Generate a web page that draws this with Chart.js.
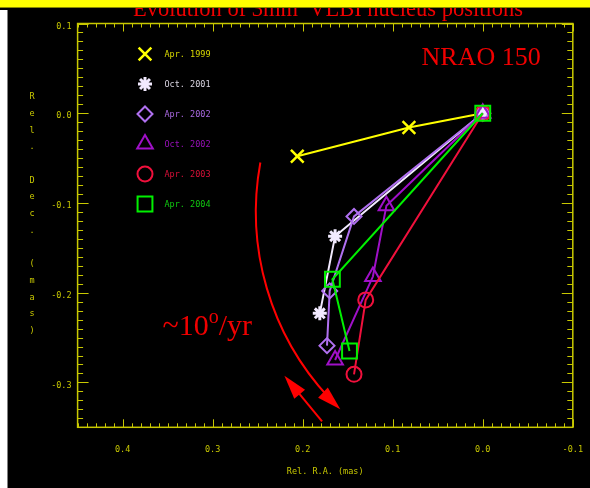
<!DOCTYPE html>
<html lang="en">
<head>
<meta charset="UTF-8">
<title>NRAO 150 - 3mm VLBI nucleus positions</title>
<style>
  html, body { margin: 0; padding: 0; background: #000; }
  #wrap { width: 590px; height: 488px; }
</style>
</head>
<body>
<div id="wrap"><canvas id="posChart" width="590" height="488"></canvas></div>

<script src="https://cdn.jsdelivr.net/npm/chart.js"></script>
<script>
// epochs (legend order)
const epochs = ['Apr. 1999', 'Oct. 2001', 'Apr. 2002', 'Oct. 2002', 'Apr. 2003', 'Apr. 2004'];

// relative R.A. / Dec. in mas
const ra1999  = [0.206, 0.082, 0.0];
const dec1999 = [-0.048, -0.016, 0.0];
const ra2001  = [0.0, 0.164, 0.181];
const dec2001 = [0.0, -0.137, -0.223];
const ra2002a  = [0.0, 0.143, 0.170, 0.173];
const dec2002a = [0.0, -0.115, -0.198, -0.259];
const ra2002b  = [0.0, 0.107, 0.122, 0.164];
const dec2002b = [0.0, -0.103, -0.182, -0.275];
const ra2003  = [0.0, 0.130, 0.143];
const dec2003 = [0.0, -0.208, -0.291];
const ra2004  = [0.0, 0.167, 0.148];
const dec2004 = [0.0, -0.185, -0.265];

// axis ticks
const xTickStep = 0.1;
const yTickStep = 0.1;

const axisColor = '#c8c800';
const monoFont = "'DejaVu Sans Mono', monospace";

const seriesStyle = [
    { color: '#ffff00', text: '#d8d800', style: 'crossRot', r: 9,   bw: 2.5 },
    { color: '#f2eaff', text: '#d8d4e0', style: 'star',     r: 7,   bw: 3 },
    { color: '#b070f0', text: '#a868e0', style: 'rectRot',  r: 7.5, bw: 2 },
    { color: '#a010c8', text: '#9810b8', style: 'triangle', r: 9,   bw: 2 },
    { color: '#f0103c', text: '#d81038', style: 'circle',   r: 7.5, bw: 2 },
    { color: '#00f000', text: '#10c810', style: 'rect',     r: 10.5, bw: 2 }
];

function toPoints(xs, ys) {
    return xs.map((x, i) => ({ x: x, y: ys[i] }));
}

const seriesData = [
    toPoints(ra1999, dec1999),
    toPoints(ra2001, dec2001),
    toPoints(ra2002a, dec2002a),
    toPoints(ra2002b, dec2002b),
    toPoints(ra2003, dec2003),
    toPoints(ra2004, dec2004)
];

const datasets = seriesData.map((pts, i) => {
    const s = seriesStyle[i];
    // the 1999 reference point is hidden under the later markers
    const radius = i === 0 ? pts.map(p => (p.x === 0 && p.y === 0 ? 0 : s.r)) : s.r;
    return {
        label: epochs[i],
        data: pts,
        order: seriesData.length - i,
        showLine: true,
        borderColor: s.color,
        borderWidth: 2,
        pointStyle: s.style,
        pointRadius: radius,
        pointBorderWidth: s.bw,
        pointBorderColor: s.color,
        pointBackgroundColor: 'rgba(0,0,0,0)',
        tension: 0
    };
});

// rotation arc annotation (data units): centre, radius and angles in degrees
const arcCentre = { x: -0.0514, y: -0.1098 };
const arcRadius = 0.3034;
const arcStartDeg = 190.4;
const arcEndDeg = 133.7;
// short back arrow (data units)
const backTail = { x: 0.1785, y: -0.3434 };
const backTip  = { x: 0.2203, y: -0.2925 };

function arrowHead(ctx, tipX, tipY, dx, dy) {
    const len = Math.hypot(dx, dy);
    const ux = dx / len, uy = dy / len;
    const hl = 24, hw = 7;
    ctx.beginPath();
    ctx.moveTo(tipX, tipY);
    ctx.lineTo(tipX - ux * hl - uy * hw, tipY - uy * hl + ux * hw);
    ctx.lineTo(tipX - ux * hl + uy * hw, tipY - uy * hl - ux * hw);
    ctx.closePath();
    ctx.fill();
}

const framePlugin = {
    id: 'frame',
    beforeDraw(chart) {
        const ctx = chart.ctx;
        ctx.save();
        ctx.fillStyle = '#000';
        ctx.fillRect(0, 0, chart.width, chart.height);
        // white strip on the left
        ctx.fillStyle = '#ffffff';
        ctx.fillRect(0, 10, 7.5, chart.height - 10);
        // title (cut off by the band)
        ctx.fillStyle = '#f00000';
        ctx.font = "22.5px 'Liberation Serif', serif";
        ctx.textAlign = 'center';
        ctx.textBaseline = 'alphabetic';
        ctx.fillText('Evolution of 3mm  VLBI nucleus positions', 328, 15.5);
        // yellow band
        ctx.fillStyle = '#ffff00';
        ctx.fillRect(0, 0, chart.width, 7);
        ctx.fillStyle = '#8a8a00';
        ctx.fillRect(0, 7, chart.width, 1);
        ctx.restore();
    },
    beforeDatasetsDraw(chart) {
        const ctx = chart.ctx;
        const a = chart.chartArea;
        const xs = chart.scales.x, ys = chart.scales.y;
        ctx.save();
        ctx.strokeStyle = axisColor;
        ctx.lineWidth = 1.5;
        ctx.strokeRect(a.left, a.top, a.right - a.left, a.bottom - a.top);
        ctx.lineWidth = 1;
        ctx.beginPath();
        for (let i = Math.ceil(xs.min * 100); i <= Math.floor(xs.max * 100); i++) {
            const px = Math.round(xs.getPixelForValue(i / 100)) + 0.5;
            const len = i % 10 === 0 ? 8 : 4;
            ctx.moveTo(px, a.bottom); ctx.lineTo(px, a.bottom - len);
            ctx.moveTo(px, a.top); ctx.lineTo(px, a.top + len);
        }
        for (let i = Math.ceil(ys.min * 100); i <= Math.floor(ys.max * 100); i++) {
            const py = Math.round(ys.getPixelForValue(i / 100)) + 0.5;
            const len = i % 10 === 0 ? 11 : 5.5;
            ctx.moveTo(a.left, py); ctx.lineTo(a.left + len, py);
            ctx.moveTo(a.right, py); ctx.lineTo(a.right - len, py);
        }
        ctx.stroke();

        // axis titles
        ctx.fillStyle = axisColor;
        ctx.font = '8.5px ' + monoFont;
        ctx.textAlign = 'center';
        ctx.textBaseline = 'middle';
        ctx.fillText('Rel. R.A. (mas)', (a.left + a.right) / 2, 472);
        const yTitle = 'Rel. Dec. (mas)';
        for (let i = 0; i < yTitle.length; i++) {
            ctx.fillText(yTitle[i], 32, 97 + i * 16.7);
        }
        ctx.restore();
    },
    afterDatasetsDraw(chart) {
        const ctx = chart.ctx;
        const xs = chart.scales.x, ys = chart.scales.y;
        ctx.save();

        // legend
        ctx.font = '8.5px ' + monoFont;
        ctx.textAlign = 'left';
        ctx.textBaseline = 'middle';
        epochs.forEach((lab, i) => {
            const s = seriesStyle[i];
            const y = 54 + i * 30;
            ctx.strokeStyle = s.color;
            ctx.fillStyle = 'rgba(0,0,0,0)';
            ctx.lineWidth = s.bw;
            Chart.helpers.drawPoint(ctx, { pointStyle: s.style, radius: s.r, rotation: 0, borderWidth: s.bw }, 145, y);
            ctx.fillStyle = s.text;
            ctx.fillText(lab, 164.5, y + 0.5);
        });

        // source name
        ctx.fillStyle = '#f00000';
        ctx.font = "26px 'Liberation Serif', serif";
        ctx.textBaseline = 'alphabetic';
        ctx.fillText('NRAO 150', 421.5, 65);

        // rotation rate
        ctx.font = "30px 'Liberation Serif', serif";
        ctx.fillText('~10', 162.5, 335);
        let w = ctx.measureText('~10').width;
        ctx.font = "20px 'Liberation Serif', serif";
        ctx.fillText('o', 162.5 + w, 323);
        const w2 = ctx.measureText('o').width;
        ctx.font = "30px 'Liberation Serif', serif";
        ctx.fillText('/yr', 162.5 + w + w2, 335);

        // curved arrow
        const cx = xs.getPixelForValue(arcCentre.x), cy = ys.getPixelForValue(arcCentre.y);
        const rad = Math.abs(xs.getPixelForValue(arcRadius) - xs.getPixelForValue(0));
        const a0 = arcStartDeg * Math.PI / 180, a1 = arcEndDeg * Math.PI / 180;
        ctx.strokeStyle = '#ff0000';
        ctx.fillStyle = '#ff0000';
        ctx.lineWidth = 2;
        const hx = cx + rad * Math.cos(a1), hy = cy + rad * Math.sin(a1);
        ctx.beginPath();
        ctx.arc(cx, cy, rad, a0, a1 + 0.06, true);
        ctx.stroke();
        arrowHead(ctx, hx, hy, Math.sin(a1), -Math.cos(a1));

        // short arrow
        const tx = xs.getPixelForValue(backTail.x), ty = ys.getPixelForValue(backTail.y);
        const px = xs.getPixelForValue(backTip.x), py = ys.getPixelForValue(backTip.y);
        ctx.beginPath();
        ctx.moveTo(tx, ty);
        ctx.lineTo(px + (tx - px) * 0.3, py + (ty - py) * 0.3);
        ctx.stroke();
        arrowHead(ctx, px, py, px - tx, py - ty);

        ctx.restore();
    }
};

const ctx = document.getElementById('posChart').getContext('2d');
const posChart = new Chart(ctx, {
    type: 'scatter',
    data: { datasets: datasets },
    options: {
        responsive: false,
        animation: false,
        layout: { padding: { top: 23.5, right: 17.2, left: 0, bottom: 0 } },
        plugins: {
            legend: { display: false },
            tooltip: { enabled: false }
        },
        scales: {
            x: {
                type: 'linear',
                reverse: true,
                min: -0.1,
                max: 0.45,
                grid: { display: false, drawTicks: false },
                border: { display: false },
                ticks: {
                    stepSize: xTickStep,
                    includeBounds: false,
                    color: axisColor,
                    font: { family: monoFont, size: 8.5 },
                    padding: 17,
                    maxRotation: 0,
                    callback: v => (Math.abs(v) < 1e-9 ? 0 : v).toFixed(1)
                },
                afterFit: s => { s.height = 60.7; s.paddingLeft = 0; s.paddingRight = 0; }
            },
            y: {
                type: 'linear',
                min: -0.35,
                max: 0.1,
                grid: { display: false, drawTicks: false },
                border: { display: false },
                ticks: {
                    stepSize: yTickStep,
                    includeBounds: false,
                    color: axisColor,
                    font: { family: monoFont, size: 8.5 },
                    padding: 6,
                    labelOffset: 3,
                    callback: v => (Math.abs(v) < 1e-9 ? 0 : v).toFixed(1)
                },
                afterFit: s => { s.width = 77.6; s.paddingTop = 0; s.paddingBottom = 0; }
            }
        }
    },
    plugins: [framePlugin]
});
</script>
</body>
</html>
